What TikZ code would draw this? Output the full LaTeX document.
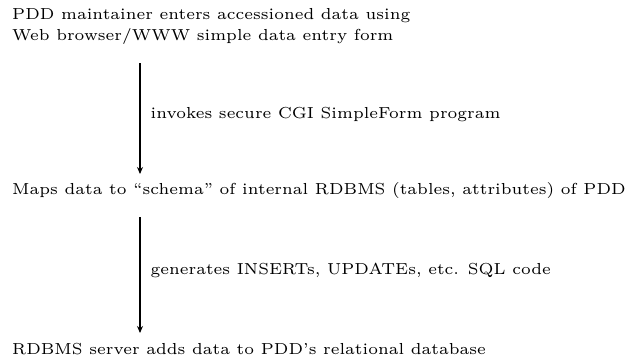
\documentclass[tikz,border=0pt]{standalone}
\usepackage{graphicx}
\usetikzlibrary{arrows.meta}
\newcommand{\scantext}[1]{\scalebox{2.66}{\fontsize{6}{7}\selectfont #1}}
\begin{document}
\begin{tikzpicture}[x=1pt,y=1pt,
  txt/.style={anchor=base west, inner sep=0pt},
  lbl/.style={anchor=west, inner sep=0pt, xshift=10pt},
  conn/.style={line width=1.3pt, -{Stealth[length=7pt,width=6pt]}}]
\useasboundingbox (0,0) rectangle (636,-362);
\node[txt] (l1) at (12,-19) {\scantext{PDD maintainer enters accessioned data using}};
\node[txt] (l2) at (12,-40) {\scantext{Web browser/WWW simple data entry form}};
\node[txt] (l3) at (12,-194) {\scantext{Maps data to ``schema'' of internal RDBMS (tables, attributes) of PDD}};
\node[txt] (l4) at (12,-354) {\scantext{RDBMS server adds data to PDD's relational database}};
\coordinate (a1s) at (140,-63);
\coordinate (a1e) at (140,-174);
\coordinate (a2s) at (140,-217);
\coordinate (a2e) at (140,-333);
\draw[conn] (a1s) -- (a1e) node[lbl, pos=0.46] (c1) {\scantext{invokes secure CGI SimpleForm program}};
\draw[conn] (a2s) -- (a2e) node[lbl, pos=0.46] (c2) {\scantext{generates INSERTs, UPDATEs, etc. SQL code}};
\end{tikzpicture}
\end{document}
